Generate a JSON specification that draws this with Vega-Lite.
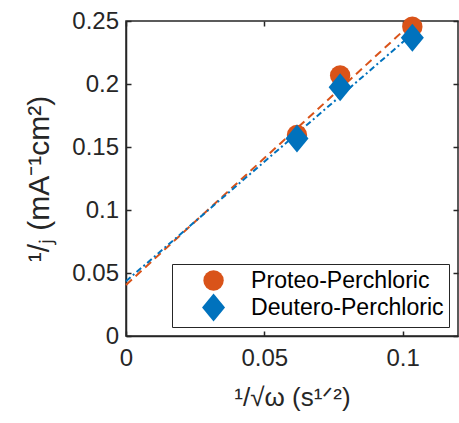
{
  "$schema": "https://vega.github.io/schema/vega-lite/v6.json",
  "width": 332,
  "height": 315,
  "autosize": {"type": "none"},
  "padding": {"left": 126, "top": 21, "right": 1, "bottom": 87},
  "background": "white",
  "config": {
    "font": "Liberation Sans",
    "view": {"stroke": "#262626", "strokeWidth": 1.5},
    "axis": {
      "grid": false,
      "domainColor": "#262626",
      "domainWidth": 1.5,
      "tickColor": "#262626",
      "tickWidth": 1.5,
      "tickSize": -5,
      "labelColor": "#262626",
      "labelFont": "Liberation Sans",
      "labelFontSize": 24,
      "titleColor": "#262626",
      "titleFont": "Liberation Sans",
      "titleFontSize": 26,
      "titleFontWeight": "normal",
      "labelFlush": false,
      "labelOverlap": false
    }
  },
  "datasets": {
    "points": [
      {"series": "Proteo-Perchloric", "x": 0.0618, "y": 0.1595},
      {"series": "Proteo-Perchloric", "x": 0.0774, "y": 0.2067},
      {"series": "Proteo-Perchloric", "x": 0.1035, "y": 0.2455},
      {"series": "Deutero-Perchloric", "x": 0.0618, "y": 0.1567},
      {"series": "Deutero-Perchloric", "x": 0.0774, "y": 0.1974},
      {"series": "Deutero-Perchloric", "x": 0.1035, "y": 0.2367}
    ],
    "fits": [
      {"series": "Proteo-Perchloric", "x": 0, "y": 0.0405},
      {"series": "Proteo-Perchloric", "x": 0.1035, "y": 0.2488},
      {"series": "Deutero-Perchloric", "x": 0, "y": 0.0435},
      {"series": "Deutero-Perchloric", "x": 0.1035, "y": 0.2398}
    ]
  },
  "layer": [
    {
      "data": {"name": "fits"},
      "transform": [{"filter": "datum.series === 'Proteo-Perchloric'"}],
      "mark": {"type": "line", "color": "#D95319", "strokeWidth": 2, "strokeDash": [8, 5]},
      "encoding": {
        "x": {
          "field": "x", "type": "quantitative",
          "scale": {"domain": [0, 0.12], "nice": false, "zero": false},
          "axis": {"orient": "bottom", "values": [0, 0.05, 0.1], "format": "~g", "labelPadding": 15, "title": "¹/√ω (s¹ᐟ²)", "titlePadding": 14}
        },
        "y": {
          "field": "y", "type": "quantitative",
          "scale": {"domain": [0, 0.25], "nice": false, "zero": false},
          "axis": {"orient": "left", "values": [0, 0.05, 0.1, 0.15, 0.2, 0.25], "format": "~g", "labelPadding": 12.5, "title": "¹/ⱼ (mA⁻¹cm²)", "titleFontSize": 30, "titlePadding": 17}
        }
      }
    },
    {
      "data": {"name": "fits"},
      "transform": [{"filter": "datum.series === 'Deutero-Perchloric'"}],
      "mark": {"type": "line", "color": "#0072BD", "strokeWidth": 2, "strokeDash": [6, 3, 2, 3]},
      "encoding": {
        "x": {
          "field": "x", "type": "quantitative",
          "axis": {"orient": "top", "values": [0, 0.05, 0.1], "labels": false, "title": null, "domain": false}
        },
        "y": {
          "field": "y", "type": "quantitative",
          "axis": {"orient": "right", "values": [0, 0.05, 0.1, 0.15, 0.2, 0.25], "labels": false, "title": null, "domain": false}
        }
      }
    },
    {
      "data": {"name": "points"},
      "mark": {"type": "point", "filled": true, "opacity": 1, "size": 415, "strokeWidth": 0},
      "encoding": {
        "x": {"field": "x", "type": "quantitative", "axis": null},
        "y": {"field": "y", "type": "quantitative", "axis": null},
        "color": {
          "field": "series", "type": "nominal",
          "scale": {"domain": ["Proteo-Perchloric", "Deutero-Perchloric"], "range": ["#D95319", "#0072BD"]},
          "legend": {"title": null, "orient": "bottom-right", "offset": 9, "padding": 5, "strokeColor": "#262626", "fillColor": "white", "symbolSize": 415, "symbolOffset": 25, "labelOffset": 26, "labelFontSize": 23.1, "labelFont": "Liberation Sans", "labelColor": "#000000", "rowPadding": 0, "symbolStrokeWidth": 0, "labelLimit": 400}
        },
        "shape": {
          "field": "series", "type": "nominal",
          "scale": {"domain": ["Proteo-Perchloric", "Deutero-Perchloric"], "range": ["circle", "M0,-1.37L1.13,0L0,1.37L-1.13,0Z"]},
          "legend": {"title": null, "orient": "bottom-right", "offset": 9, "padding": 5, "strokeColor": "#262626", "fillColor": "white", "symbolSize": 415, "symbolOffset": 25, "labelOffset": 26, "labelFontSize": 23.1, "labelFont": "Liberation Sans", "labelColor": "#000000", "rowPadding": 0, "symbolStrokeWidth": 0, "labelLimit": 400}
        }
      }
    }
  ],
  "resolve": {"axis": {"x": "independent", "y": "independent"}}
}
